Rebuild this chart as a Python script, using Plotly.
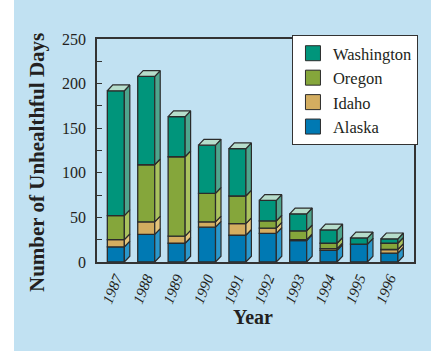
import plotly.graph_objects as go

# Unhealthful air-quality days per year, stacked by state
years = ["1987", "1988", "1989", "1990", "1991", "1992", "1993", "1994", "1995", "1996"]
alaska = [17, 31, 21, 39, 30, 32, 24, 13, 20, 10]
idaho = [8, 14, 8, 6, 13, 6, 1, 2, 0, 4]
oregon = [27, 64, 89, 32, 31, 8, 10, 6, 0, 7]
washington = [140, 99, 45, 54, 53, 23, 19, 15, 7, 5]

series = [
    ("Alaska", alaska, "#0079b3", "#2a97cb"),
    ("Idaho", idaho, "#d3ad60", "#e3c47c"),
    ("Oregon", oregon, "#85a63b", "#a9c25e"),
    ("Washington", washington, "#00957b", "#4ea58d"),
]
top_color = "#b6ddcb"
edge = "#2b2b2b"
bg = "#c1e1f2"
ink = "#231f20"
serif = "Liberation Serif"

xs = list(range(len(years)))
half = 0.28      # half bar width (category units)
dx = 0.18        # depth offset, x (category units)
dy = 6.5         # depth offset, y (value units)

fig = go.Figure()

base = [0] * len(years)
side_polys = []
for name, vals, front, side in series:
    fig.add_trace(go.Bar(
        x=xs, y=vals, base=base, width=2 * half, name=name,
        marker=dict(color=front, line=dict(color=edge, width=1.3)),
        showlegend=False, hoverinfo="skip",
    ))
    px, py = [], []
    for i, v in enumerate(vals):
        y0, y1 = base[i], base[i] + v
        xr = i + half
        px += [xr, xr + dx, xr + dx, xr, xr, None]
        py += [y0, y0 + dy, y1 + dy, y1, y0, None]
    side_polys.append((px, py, side))
    base = [b + v for b, v in zip(base, vals)]

for px, py, side in side_polys:
    fig.add_trace(go.Scatter(
        x=px, y=py, mode="lines", fill="toself", fillcolor=side,
        line=dict(color=edge, width=1.2), showlegend=False, hoverinfo="skip",
    ))

# top faces of each stack
tx, ty = [], []
for i, t in enumerate(base):
    xl, xr = i - half, i + half
    tx += [xl, xl + dx, xr + dx, xr, xl, None]
    ty += [t, t + dy, t + dy, t, t, None]
fig.add_trace(go.Scatter(
    x=tx, y=ty, mode="lines", fill="toself", fillcolor=top_color,
    line=dict(color=edge, width=1.2), showlegend=False, hoverinfo="skip",
))

# legend entries, top to bottom
for name, vals, front, side in reversed(series):
    fig.add_trace(go.Scatter(
        x=[None], y=[None], mode="markers", name=name,
        marker=dict(symbol="square", size=15, color=front,
                    line=dict(color=edge, width=1)),
    ))

fig.update_layout(
    width=431, height=351,
    margin=dict(l=97, r=17, t=39, b=89),
    paper_bgcolor=bg, plot_bgcolor=bg,
    barmode="overlay",
    font=dict(family=serif, color=ink),
    showlegend=True,
    legend=dict(
        x=0.615, y=1.018, xanchor="left", yanchor="top",
        bgcolor="white", bordercolor="#333333", borderwidth=1,
        font=dict(family=serif, size=16.5, color=ink),
        traceorder="normal", tracegroupgap=0,
    ),
    xaxis=dict(
        range=[-0.62, 9.81], tickmode="array", tickvals=xs, ticktext=years,
        tickangle=-68, ticks="", showgrid=False, zeroline=False,
        showline=True, linecolor="#333333", linewidth=1.5, mirror=True,
        tickfont=dict(family=serif, size=15, color=ink, style="italic"),
    ),
    yaxis=dict(
        range=[0, 250], tickvals=[0, 50, 100, 150, 200, 250],
        ticks="inside", ticklen=5, tickcolor="#333333",
        minor=dict(tickvals=[25, 75, 125, 175, 225], ticks="inside",
                   ticklen=5, tickcolor="#333333"),
        showgrid=False, zeroline=False,
        showline=True, linecolor="#333333", linewidth=1.5, mirror=True,
        tickfont=dict(family=serif, size=16, color=ink),
        ticklabelstandoff=6,
    ),
    shapes=[dict(
        type="rect", xref="paper", yref="paper",
        x0=-97 / 317, x1=(14 - 97) / 317, y0=-0.5, y1=1.3,
        fillcolor="white", line=dict(width=0), layer="below",
    )],
    annotations=[
        dict(text="Number of Unhealthful Days", xref="paper", yref="paper",
             x=(37 - 97) / 317, y=(262 - 163) / 223, textangle=-90,
             showarrow=False, xanchor="center", yanchor="middle",
             font=dict(family=serif, size=21, color=ink, weight="bold")),
        dict(text="Year", xref="paper", yref="paper",
             x=(253 - 97) / 317, y=(262 - 317) / 223,
             showarrow=False, xanchor="center", yanchor="middle",
             font=dict(family=serif, size=20, color=ink, weight="bold")),
    ],
)

fig.write_html("out.html")
